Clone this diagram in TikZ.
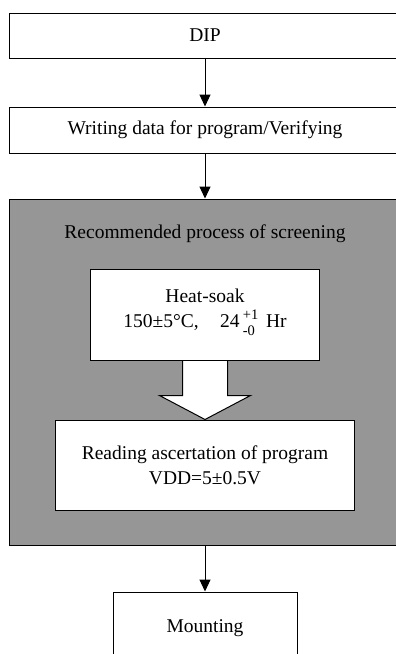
\documentclass[tikz,border=0pt]{standalone}
\usepackage{fontspec}
\setmainfont{Liberation Serif}
\usepackage{tikz}
\usetikzlibrary{%
  calc,
  positioning,
  arrows.meta,
}
\definecolor{screengray}{RGB}{150,150,150}

\begin{document}
\begin{tikzpicture}[
    x = 1pt, y = -1pt,
    font = \fontsize{19.5}{25}\selectfont,
    box/.style = {
      rectangle,
      draw = black,
      line width = 1pt,
      fill = white,
      align = center,
      inner sep = 0pt,
    },
    bigarrow/.style = {
      line width = 1pt,
      fill = white,
      line join = miter,
    },
  ]
  \useasboundingbox (0,0) rectangle (396,654);
  \clip (0,0) rectangle (396,654);

  \node[box, minimum width = 392pt, minimum height = 45pt] (dip) at (205,35.5) {DIP};
  \node[box, minimum width = 392pt, minimum height = 46pt, below = 48pt of dip] (write)
    {Writing data for program/Verifying};

  \node[box, fill = screengray, minimum width = 392pt, minimum height = 346pt,
    below = 45pt of write] (screen) {};
  \node (title) at ($(screen.north)+(0,35)$) {Recommended process of screening};

  \node[box, minimum width = 229pt, minimum height = 91pt, below = 70pt of screen.north] (heat)
    {Heat-soak\\
     150±5°C,\hspace{1.1em}24\,{\fontsize{14.5}{16}\selectfont
       \begin{tabular}{@{}l@{}}+1\\-0\end{tabular}}\hspace{0.4em}Hr};
  \node[box, minimum width = 299pt, minimum height = 90pt, below = 59pt of heat] (read)
    {Reading ascertation of program\\VDD=5±0.5V};

  \node[box, minimum width = 184pt, minimum height = 72pt, below = 46pt of screen] (mount)
    {Mounting};

  \draw[bigarrow] ($(heat.south)+(-22.5,0.5)$) -- ++(0,34.5) -- ++(-23,0) -- (read.north)
    -- ++(45.5,-24) -- ++(-23,0) -- ($(heat.south)+(22.5,0.5)$);

  \begin{scope}[line width = 1pt, -{Triangle[length = 12pt, width = 11pt]}]
    \draw (dip) -- (write);
    \draw (write) -- (screen);
    \draw (screen) -- (mount);
  \end{scope}
\end{tikzpicture}
\end{document}
